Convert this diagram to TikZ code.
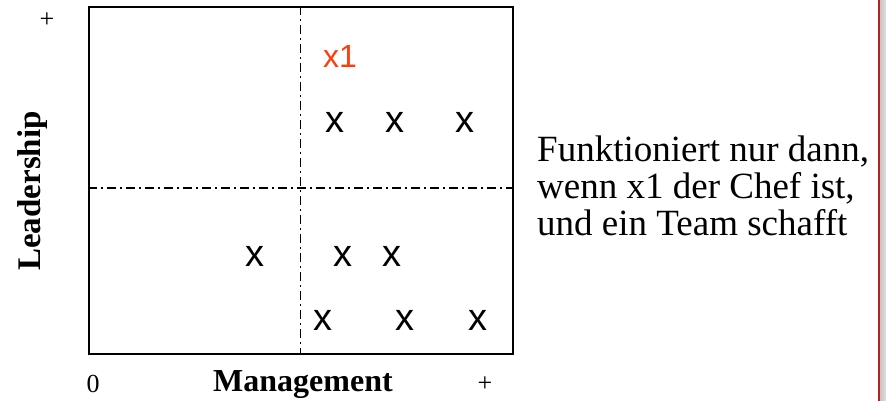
\documentclass[tikz,border=0pt]{standalone}
\usepackage{fontspec}
\setmainfont{Liberation Serif}
\newfontfamily\arialfont{Liberation Sans}
\definecolor{xonered}{RGB}{255,60,10}
\definecolor{edgered}{RGB}{178,34,34}
\begin{document}
\begin{tikzpicture}[x=1pt,y=-1pt,
  xmark/.style={font=\arialfont\fontsize{38}{38}\selectfont,inner sep=0pt},
  axislabel/.style={font=\bfseries\fontsize{32}{32}\selectfont,inner sep=0pt},
  tick/.style={font=\fontsize{26}{26}\selectfont,inner sep=0pt},
  quadline/.style={line width=1.3pt,dash pattern=on 9pt off 4pt on 2pt off 4pt}]
\useasboundingbox (0,0) rectangle (886,401);
\fill[white] (0,0) rectangle (886,401);
% right edge frame
\shade[left color=gray!45,right color=gray!25] (880,0) rectangle (886,401);
\fill[edgered] (877.5,0) rectangle (880,401);
% box
\node[draw,line width=2pt,minimum width=424pt,minimum height=347pt,inner sep=0pt,anchor=north west] (box) at (88,6) {};
\coordinate (vt) at (300.5,6);
\coordinate (vb) at (300.5,353);
\coordinate (hl) at (88,188);
\coordinate (hr) at (512,188);
\draw[quadline] (vt) -- (vb);
\draw[quadline] (hl) -- (hr);
% marks
\node[xmark,font=\arialfont\fontsize{32}{32}\selectfont,text=xonered] (x1) at (340,56) {x1};
\node[xmark] (a1) at (335,122) {x};
\node[xmark] (a2) at (395,122) {x};
\node[xmark] (a3) at (465,122) {x};
\node[xmark] (b1) at (255,256) {x};
\node[xmark] (b2) at (343,256) {x};
\node[xmark] (b3) at (392,256) {x};
\node[xmark] (c1) at (323,320) {x};
\node[xmark] (c2) at (405,320) {x};
\node[xmark] (c3) at (478,320) {x};
% axis labels
\node[tick] (plusy) at (47,20) {+};
\node[tick] (zero) at (93,384) {0};
\node[tick] (plusx) at (485,384) {+};
\node[axislabel] (mgmt) at (303,385) {Management};
\node[axislabel,rotate=90,font=\bfseries\fontsize{33}{33}\selectfont] (lead) at (33,191) {Leadership};
% text
\node[anchor=west,align=left,inner sep=0pt,font=\fontsize{37}{37}\selectfont] (txt) at (537,186) {Funktioniert nur dann,\\wenn x1 der Chef ist,\\und ein Team schafft};
\end{tikzpicture}
\end{document}
